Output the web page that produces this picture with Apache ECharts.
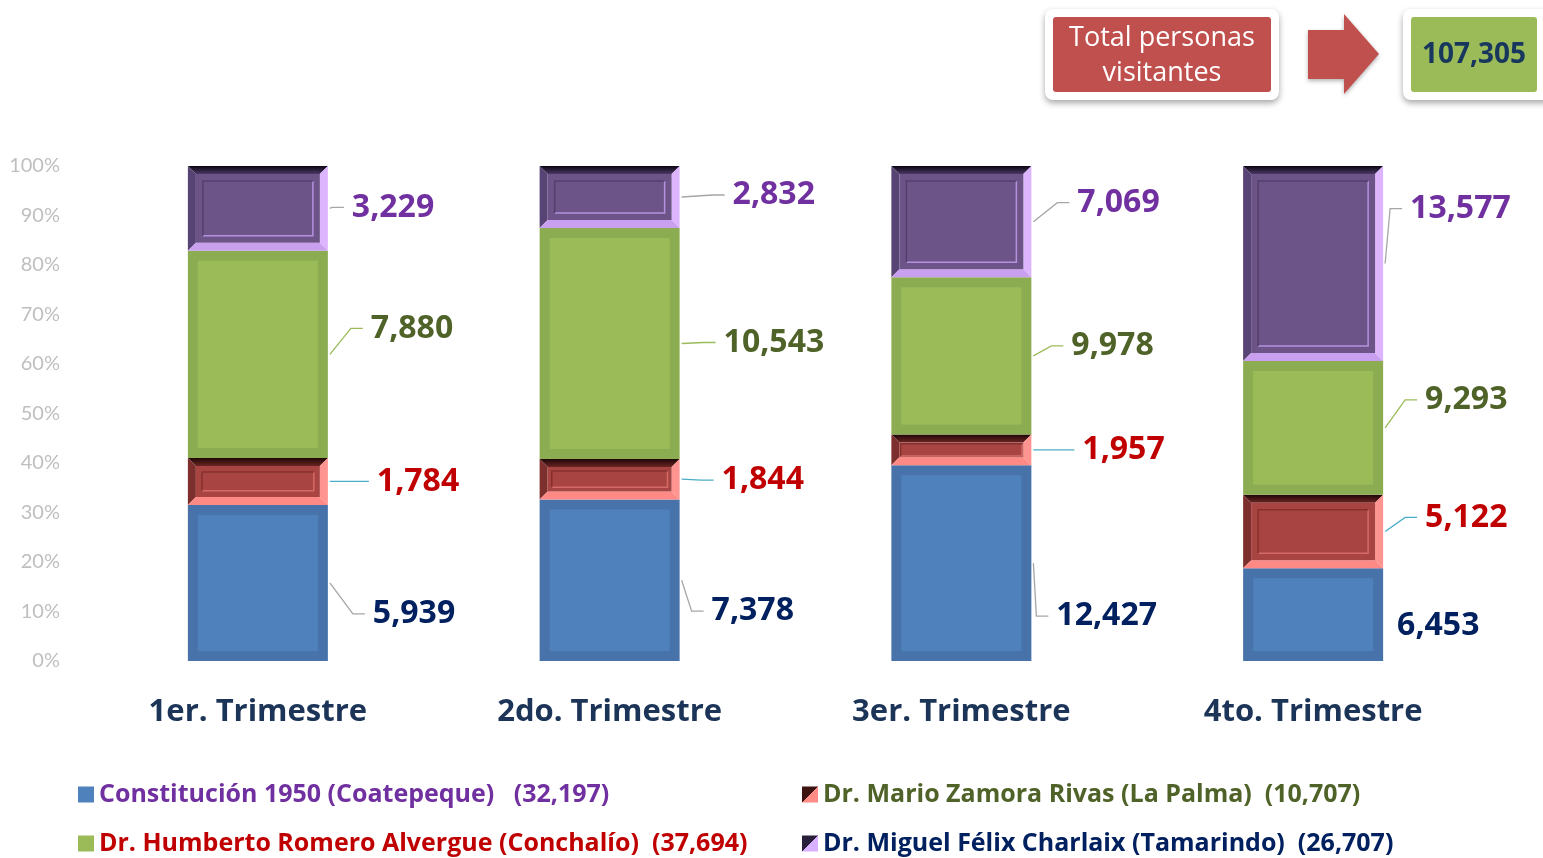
<!DOCTYPE html>
<html>
<head>
<meta charset="utf-8">
<title>Personas visitantes por trimestre</title>
<script src="https://cdn.jsdelivr.net/npm/echarts@6/dist/echarts.min.js"></script>
<style>
  html, body { margin: 0; padding: 0; background: #ffffff; }
  #chart { width: 1543px; height: 858px; }
</style>
</head>
<body>
<div id="chart"></div>
<script>
// datos por trimestre
const quarters = ['1er. Trimestre', '2do. Trimestre', '3er. Trimestre', '4to. Trimestre'];
const coatepeque = [5939, 7378, 12427, 6453];
const laPalma = [1784, 1844, 1957, 5122];
const conchalio = [7880, 10543, 9978, 9293];
const tamarindo = [3229, 2832, 7069, 13577];

const names = [
  'Constitución 1950 (Coatepeque)',
  'Dr. Mario Zamora Rivas (La Palma)',
  'Dr. Humberto Romero Alvergue (Conchalío)',
  'Dr. Miguel Félix Charlaix (Tamarindo)'
];
const stackOrder = [coatepeque, laPalma, conchalio, tamarindo];

// desplazamiento de etiquetas [dx desde borde derecho, dy desde el centro del tramo]
const labelNudge = [
  [[45, 31], [32, 31], [25, 53], [14, 11]],
  [[49, 0], [42, 1], [51, 0], [42, -14]],
  [[43, -26], [44, -1], [40, -10], [42, -28]],
  [[24, -1], [53, -2], [46, -19], [27, -55]]
];

// posición de cada leyenda [left, top]
const legendPos = [[78, 782], [802, 782], [78, 831], [802, 831]];

const styles = [
  { frame: '#4772aa', face: '#4f81bd', text: '#002060', line: '#a6a6a6', legendText: '#7030a0' },
  { bevel: true, top: ['#1e0706', '#6a2523'], left: '#7d2f2d', right: '#ff9490', bottom: '#ff8a85',
    face: '#a84442', hi: '#d46b67', lo: '#86302e', text: '#c00000', line: '#4bacc6', legendText: '#4f6228' },
  { frame: '#8cac52', face: '#9bbb59', text: '#4f6228', line: '#9bbb59', legendText: '#c00000' },
  { bevel: true, top: ['#0c0612', '#4a3866'], left: '#574374', right: '#ddb5ff', bottom: '#c8a0ef',
    face: '#6d5488', hi: '#b592dd', lo: '#52406c', text: '#7030a0', line: '#a6a6a6', legendText: '#002060' }
];
const seriesColors = ['#4f81bd', '#c0504d', '#9bbb59', '#8064a2'];

const fmt = n => String(n).replace(/\B(?=(\d{3})+(?!\d))/g, ',');
const sum = arr => arr.reduce((a, b) => a + b, 0);
const totals = quarters.map((q, i) => sum(stackOrder.map(s => s[i])));
const grandTotal = sum(totals);

// porcentajes acumulados
const seriesData = stackOrder.map((vals, si) => vals.map((v, qi) => {
  let below = 0;
  for (let k = 0; k < si; k++) below += stackOrder[k][qi];
  return [qi, below / totals[qi] * 100, (below + v) / totals[qi] * 100, v];
}));

function poly(points, fill) {
  return { type: 'polygon', shape: { points }, style: { fill } };
}

function makeRender(si) {
  const st = styles[si];
  return function (params, api) {
    const qi = api.value(0);
    const pLo = api.coord([qi, api.value(1)]);
    const pHi = api.coord([qi, api.value(2)]);
    const w = api.size([1, 0])[0] * 0.398;
    const x = pLo[0] - w / 2, y = pHi[1], h = pLo[1] - pHi[1];
    const kids = [];
    if (st.bevel) {
      const b = Math.min(8, h / 3);
      kids.push(poly([[x, y], [x + w, y], [x + w - b, y + b], [x + b, y + b]],
        new echarts.graphic.LinearGradient(0, 0, 0, 1, [{ offset: 0, color: st.top[0] }, { offset: 1, color: st.top[1] }])));
      kids.push(poly([[x, y], [x + b, y + b], [x + b, y + h - b], [x, y + h]], st.left));
      kids.push(poly([[x + w, y], [x + w, y + h], [x + w - b, y + h - b], [x + w - b, y + b]], st.right));
      kids.push(poly([[x, y + h], [x + b, y + h - b], [x + w - b, y + h - b], [x + w, y + h]], st.bottom));
      kids.push({ type: 'rect', shape: { x: x + b, y: y + b, width: w - 2 * b, height: h - 2 * b }, style: { fill: st.face } });
      const ii = Math.min(15, h * 0.3);
      const ix = x + ii, iy = y + ii, iw = w - 2 * ii, ih = h - 2 * ii;
      if (ih > 1) {
        kids.push({ type: 'polyline', shape: { points: [[ix, iy + ih], [ix + iw, iy + ih], [ix + iw, iy]] },
          style: { stroke: st.hi, lineWidth: 1.5, fill: null } });
        kids.push({ type: 'polyline', shape: { points: [[ix, iy + ih], [ix, iy], [ix + iw, iy]] },
          style: { stroke: st.lo, lineWidth: 1.5, fill: null } });
      }
    } else {
      kids.push({ type: 'rect', shape: { x, y, width: w, height: h }, style: { fill: st.frame } });
      const ii = Math.min(10, h / 4);
      kids.push({ type: 'rect', shape: { x: x + ii, y: y + ii, width: w - 2 * ii, height: h - 2 * ii }, style: { fill: st.face } });
    }
    // etiqueta con línea guía
    const nd = labelNudge[si][qi];
    const bx = x + w, my = y + h / 2;
    const lx = bx + nd[0], ly = my + nd[1];
    if (nd[0] > 20) {
      kids.push({ type: 'polyline', shape: { points: [[bx + 2, my], [lx - 20, ly], [lx - 8, ly]] },
        style: { stroke: st.line, lineWidth: 1.3, fill: null } });
    }
    kids.push({ type: 'text', x: lx, y: ly, style: {
      text: fmt(api.value(3)), fill: st.text, font: 'bold 32px "Open Sans"', align: 'left', verticalAlign: 'middle'
    } });
    return { type: 'group', children: kids };
  };
}

const legendIcon = (dark, light) => ({
  color: new echarts.graphic.LinearGradient(0, 0, 1, 1, [
    { offset: 0, color: dark }, { offset: 0.5, color: dark }, { offset: 0.5, color: light }, { offset: 1, color: light }
  ])
});

function legendFor(si) {
  const item = { name: names[si], textStyle: { color: styles[si].legendText } };
  if (si === 1) item.itemStyle = legendIcon('#3d1312', '#ff8c87');
  if (si === 3) item.itemStyle = legendIcon('#2a1f3a', '#d8b0ff');
  return {
    left: legendPos[si][0], top: legendPos[si][1],
    icon: 'rect', itemWidth: 16, itemHeight: 16, padding: 0,
    textStyle: { fontFamily: 'Open Sans', fontWeight: 'bold', fontSize: 25, lineHeight: 25 },
    formatter: name => name + (si === 0 ? '   ' : '  ') + '(' + fmt(sum(stackOrder[si])) + ')',
    data: [item]
  };
}

const chart = echarts.init(document.getElementById('chart'));
chart.setOption({
  backgroundColor: '#ffffff',
  animation: false,
  textStyle: { fontFamily: 'Open Sans' },
  grid: { left: 82, right: 54, top: 166, bottom: 197 },
  legend: [0, 1, 2, 3].map(legendFor),
  xAxis: {
    type: 'category',
    data: quarters,
    axisLine: { show: false },
    axisTick: { show: false },
    axisLabel: { color: '#1b3457', fontSize: 31, fontWeight: 'bold', margin: 36 }
  },
  yAxis: {
    type: 'value', min: 0, max: 100, interval: 10,
    axisLine: { show: false },
    axisTick: { show: false },
    splitLine: { show: false },
    axisLabel: { formatter: '{value}%', color: '#bfbfbf', fontSize: 20, fontFamily: 'Lato', margin: 22 }
  },
  series: stackOrder.map((s, si) => ({
    name: names[si],
    type: 'custom',
    itemStyle: { color: seriesColors[si] },
    encode: { x: 0, y: [1, 2] },
    data: seriesData[si],
    renderItem: makeRender(si)
  })),
  graphic: [
    { type: 'rect', shape: { x: 1045, y: 9, width: 234, height: 91, r: 8 },
      style: { fill: '#ffffff', shadowBlur: 6, shadowOffsetY: 3, shadowColor: 'rgba(0,0,0,0.35)' } },
    { type: 'rect', shape: { x: 1053, y: 17, width: 218, height: 75, r: 3 }, style: { fill: '#c0504d' } },
    { type: 'text', x: 1162, y: 56, style: { text: 'Total personas\nvisitantes', fill: '#ffffff',
      font: '27px "Open Sans"', lineHeight: 35, align: 'center', verticalAlign: 'middle' } },
    { type: 'polygon', shape: { points: [[1308, 30], [1344, 30], [1344, 14], [1379, 54], [1344, 94], [1344, 79], [1308, 79]] },
      style: { fill: '#c0504d', shadowBlur: 4, shadowOffsetY: 2, shadowColor: 'rgba(0,0,0,0.3)' } },
    { type: 'rect', shape: { x: 1403, y: 9, width: 150, height: 91, r: 8 },
      style: { fill: '#ffffff', shadowBlur: 6, shadowOffsetY: 3, shadowColor: 'rgba(0,0,0,0.35)' } },
    { type: 'rect', shape: { x: 1411, y: 17, width: 126, height: 75, r: 3 }, style: { fill: '#9bbb59' } },
    { type: 'text', x: 1474, y: 55, style: { text: fmt(grandTotal), fill: '#17375e',
      font: 'bold 28px "Open Sans"', align: 'center', verticalAlign: 'middle' } }
  ]
});
</script>
</body>
</html>
